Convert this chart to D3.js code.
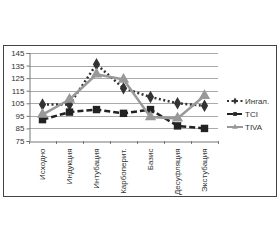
<!DOCTYPE html>
<html>
<head>
<meta charset="utf-8">
<script src="https://cdn.jsdelivr.net/npm/d3@7"></script>
<style>
  body { margin: 0; background: #fff; }
  text { font-family: "Liberation Sans", Arial, sans-serif; fill: #333; }
</style>
</head>
<body>
<div></div>
<script>
const categories = ["Исходно", "Индукция", "Интубация", "Карбоперит.", "Базис", "Десуфляция", "Экстубация"];
const ingal = [104, 104, 136, 117, 110, 105, 103];
const tci = [92, 98, 100, 97, 100, 87, 85];
const tiva = [96, 108, 128, 124, 94, 93, 111];
const yTicks = [75, 85, 95, 105, 115, 125, 135, 145];

const series = [
  { name: "Ингал.", values: ingal, color: "#333", dash: "2,2.5", shape: "diamond", width: 2.5 },
  { name: "TCI", values: tci, color: "#222", dash: "6,3", shape: "square", width: 2.5 },
  { name: "TIVA", values: tiva, color: "#999", dash: null, shape: "triangle", width: 2.5 }
];

const w = 280;
const h = 240;
const svg = d3.select("div").append("svg").attr("width", w).attr("height", h);

svg.append("rect")
  .attr("x", 3.5).attr("y", 45.5)
  .attr("width", 273).attr("height", 151)
  .attr("fill", "none").attr("stroke", "#444").attr("stroke-width", 1);

const x = d3.scaleBand().domain(categories).range([29, 218]);
const y = d3.scaleLinear().domain([75, 145]).range([141, 53]);

// gridlines
svg.append("g")
  .selectAll("line")
  .data(yTicks.slice(1))
  .enter()
  .append("line")
  .attr("x1", 29).attr("x2", 218)
  .attr("y1", (d) => Math.round(y(d)) + 0.5)
  .attr("y2", (d) => Math.round(y(d)) + 0.5)
  .attr("stroke", "#aaa").attr("stroke-width", 1);

const yAxis = svg.append("g")
  .attr("transform", "translate(29.5,0)")
  .call(d3.axisLeft(y).tickValues(yTicks).tickSize(3).tickFormat(d3.format("d")));
yAxis.select(".domain").attr("stroke", "#777");
yAxis.selectAll(".tick line").attr("stroke", "#777");
yAxis.selectAll("text").attr("font-size", 8).attr("fill", "#333").attr("x", -5);

const xAxis = svg.append("g")
  .attr("transform", "translate(0,141.5)")
  .call(d3.axisBottom(x).tickSize(0).tickFormat((d) => d));
xAxis.select(".domain").attr("stroke", "#777");
xAxis.selectAll(".tick text")
  .attr("font-size", 8)
  .attr("fill", "#333")
  .attr("transform", "rotate(-90)")
  .attr("text-anchor", "end")
  .attr("x", -7)
  .attr("y", 0)
  .attr("dy", "0.35em");

// x tick marks between categories
svg.append("g")
  .selectAll("line")
  .data(d3.range(categories.length + 1))
  .enter()
  .append("line")
  .attr("x1", (i) => 29 + i * x.step() + 0.5)
  .attr("x2", (i) => 29 + i * x.step() + 0.5)
  .attr("y1", 141).attr("y2", 144)
  .attr("stroke", "#777");

const cx = (d, i) => x(categories[i]) + x.bandwidth() / 2;
const line = d3.line().x(cx).y((d) => y(d));

const symType = (s) =>
  s === "diamond" ? d3.symbolDiamond : s === "square" ? d3.symbolSquare : d3.symbolTriangle;
const symSize = (s) => (s === "diamond" ? 45 : 55);

series.forEach((s) => {
  svg.append("path")
    .datum(s.values)
    .attr("d", line)
    .attr("fill", "none")
    .attr("stroke", s.color)
    .attr("stroke-width", s.width)
    .attr("stroke-dasharray", s.dash);
  svg.append("g")
    .selectAll("path")
    .data(s.values)
    .enter()
    .append("path")
    .attr("d", d3.symbol().type(symType(s.shape)).size(symSize(s.shape)))
    .attr("transform", (d, i) => "translate(" + cx(d, i) + "," + y(d) + ")")
    .attr("fill", s.color);
});

// legend
const legend = svg.append("g")
  .selectAll("g")
  .data(series)
  .enter()
  .append("g")
  .attr("transform", (d, i) => "translate(227," + (101 + i * 13) + ")");
legend.append("line")
  .attr("x1", 0).attr("x2", 16)
  .attr("stroke", (d) => d.color)
  .attr("stroke-width", 2)
  .attr("stroke-dasharray", (d) => d.dash);
legend.append("path")
  .attr("d", (d) => d3.symbol().type(symType(d.shape)).size(14)())
  .attr("transform", "translate(8,0)")
  .attr("fill", (d) => d.color);
legend.append("text")
  .attr("x", 18)
  .attr("dy", "0.35em")
  .attr("font-size", 8)
  .text((d) => d.name);
</script>
</body>
</html>
